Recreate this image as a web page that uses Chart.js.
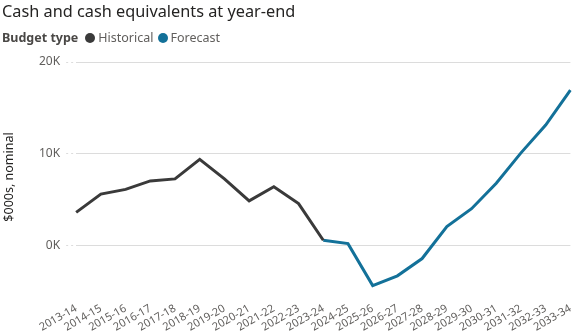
<!DOCTYPE html>
<html>
<head>
<meta charset="utf-8">
<script src="https://cdn.jsdelivr.net/npm/chart.js@4"></script>
<style>
  body { margin: 0; background: #fff; font-family: 'Segoe UI', 'Noto Sans', sans-serif; }
  #wrap { position: relative; width: 579px; height: 332px; }
  #tittel { position: absolute; left: 2px; top: 0px; font-size: 16.3px; color: #252423; }
  #forklaring { position: absolute; left: 2px; top: 29px; font-size: 12.5px; color: #605E5C; display: flex; align-items: center; }
  #forklaring b { color: #4a4846; margin-right: 7px; }
  .prikk { display: inline-block; width: 10px; height: 10px; border-radius: 50%; margin-right: 3px; }
  .post { display: flex; align-items: center; margin-right: 4px; }
  canvas { position: absolute; left: 0; top: 0; }
</style>
</head>
<body>
<div id="wrap">
  <canvas id="kontantGraf" width="579" height="332"></canvas>
  <div id="tittel">Cash and cash equivalents at year-end</div>
  <div id="forklaring">
    <b>Budget type</b>
    <span class="post"><span class="prikk" style="background:#3a3a3a"></span>Historical</span>
    <span class="post"><span class="prikk" style="background:#137199"></span>Forecast</span>
  </div>
</div>
<script>
const aar = ['2013-14', '2014-15', '2015-16', '2016-17', '2017-18', '2018-19', '2019-20',
    '2020-21', '2021-22', '2022-23', '2023-24', '2024-25', '2025-26', '2026-27', '2027-28',
    '2028-29', '2029-30', '2030-31', '2031-32', '2032-33', '2033-34'];

// $000s, nominal
const historisk = [3650, 5640, 6150, 7070, 7290, 9420, 7290, 4900, 6440, 4600, 620,
    null, null, null, null, null, null, null, null, null, null];
const prognose = [null, null, null, null, null, null, null, null, null, null, 620,
    250, -4310, -3250, -1370, 2100, 4050, 6810, 10120, 13150, 16940];

const yTicks = [0, 10000, 20000];

const gra = '#605E5C';

let kontantGraf = new Chart(document.getElementById('kontantGraf'), {
    type: 'line',
    data: {
        labels: aar,
        datasets: [{
            label: 'Historical',
            data: historisk,
            borderColor: '#3a3a3a',
            borderWidth: 3,
            pointRadius: 0,
            tension: 0
        }, {
            label: 'Forecast',
            data: prognose,
            borderColor: '#137199',
            borderWidth: 3,
            pointRadius: 0,
            tension: 0
        }]
    },
    options: {
        responsive: false,
        animation: false,
        layout: { padding: { top: 62, right: 6, left: 2, bottom: -4 } },
        plugins: {
            legend: { display: false },
            tooltip: { enabled: false }
        },
        scales: {
            x: {
                offset: false,
                grid: { display: false },
                border: { display: false },
                ticks: {
                    color: gra,
                    font: { family: "'Segoe UI', 'Noto Sans', sans-serif", size: 11 },
                    maxRotation: 30,
                    minRotation: 30,
                    autoSkip: false,
                    padding: 2
                }
            },
            y: {
                min: -5000,
                max: 20000,
                afterBuildTicks: akse => { akse.ticks = yTicks.map(v => ({ value: v })); },
                grid: {
                    color: '#dcdcdc',
                    borderDash: [2, 3],
                    tickBorderDash: [2, 3],
                    tickLength: 10
                },
                border: { display: false },
                ticks: {
                    color: gra,
                    font: { family: "'Segoe UI', 'Noto Sans', sans-serif", size: 12 },
                    padding: 6,
                    callback: v => (v / 1000) + 'K'
                },
                title: {
                    display: true,
                    text: '$000s, nominal',
                    color: '#252423',
                    font: { family: "'Segoe UI', 'Noto Sans', sans-serif", size: 12.5 },
                    padding: { top: 0, bottom: 16 }
                }
            }
        }
    }
});
</script>
</body>
</html>
